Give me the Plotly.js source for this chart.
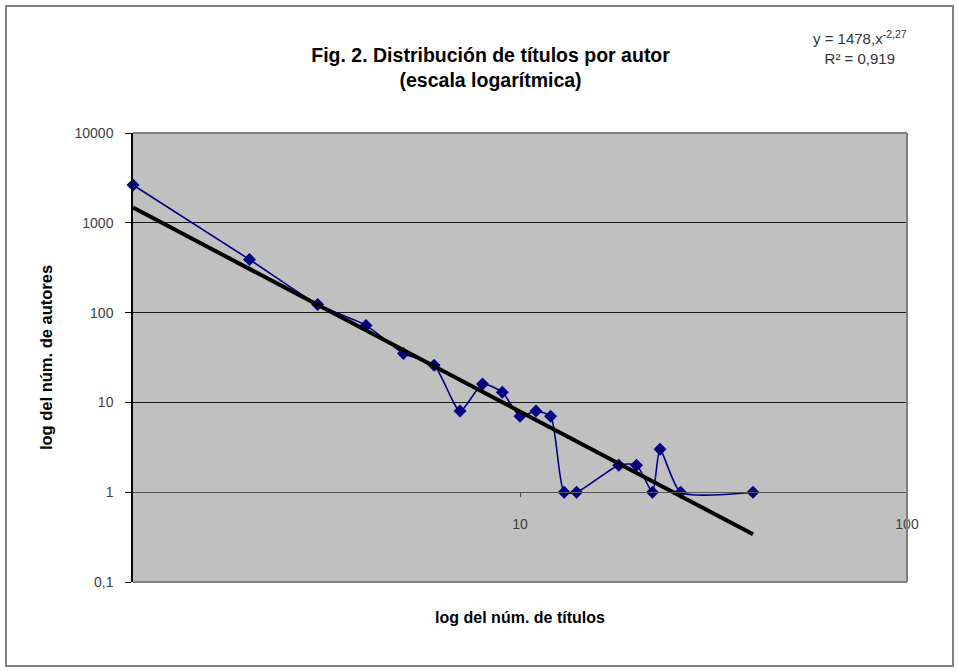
<!DOCTYPE html>
<html>
<head>
<meta charset="utf-8">
<script src="https://cdn.plot.ly/plotly-3.0.1.min.js"></script>
<style>
  html, body { margin: 0; padding: 0; background: #fff; }
  #chart { width: 958px; height: 671px; }
</style>
</head>
<body>
<div id="chart"></div>
<script>
// Data
const titulos = [1, 2, 3, 4, 5, 6, 7, 8, 9, 10, 11, 12, 13, 14, 18, 20, 22, 23, 26, 40];
const autores = [2640, 390, 123, 72, 35, 26, 8, 16, 13, 7, 8, 7, 1, 1, 2, 2, 1, 3, 1, 1];

// Power trend line endpoints (y = 1478·x^-2,27), read at x = 1 and x = 40
const trendX = [1, 40];
const trendY = [1478, 0.34];

const yTickVals = [0.1, 1, 10, 100, 1000, 10000];
const yTickText = ['0,1', '1', '10', '100', '1000', '10000'];
const xTickVals = [10, 100];
const xTickText = ['10', '100'];

const font = '"Liberation Sans", Arial, sans-serif';

const traces = [
  {
    x: titulos, y: autores,
    type: 'scatter', mode: 'lines+markers',
    line: { color: '#000080', width: 1.6, shape: 'spline', smoothing: 0.6 },
    marker: { symbol: 'diamond', size: 10, color: '#000080' },
    cliponaxis: false,
    hoverinfo: 'x+y',
    name: 'autores'
  },
  {
    x: trendX, y: trendY,
    type: 'scatter', mode: 'lines',
    line: { color: '#000000', width: 4 },
    name: 'Potencial'
  }
];

const layout = {
  width: 958, height: 671,
  margin: { l: 133, r: 51, t: 133, b: 89 },
  paper_bgcolor: '#ffffff',
  plot_bgcolor: '#c0c0c0',
  showlegend: false,
  title: {
    text: '<b>Fig. 2. Distribución de títulos por autor<br>(escala logarítmica)</b>',
    font: { family: font, size: 19.5, color: '#000000' },
    x: 0.462, xref: 'paper', xanchor: 'center',
    y: 0.908, yref: 'container', yanchor: 'middle'
  },
  xaxis: {
    type: 'log',
    range: [0, 2],
    anchor: 'free',
    position: 0.2,
    tickvals: xTickVals, ticktext: xTickText,
    ticks: 'outside', ticklen: 4, tickcolor: '#555555', tickwidth: 1,
    ticklabelstandoff: 15,
    showline: true, linecolor: '#555555', linewidth: 1,
    showgrid: false, zeroline: false,
    tickfont: { family: font, size: 14, color: '#404040' },
    title: {
      text: '<b>log del núm. de títulos</b>',
      font: { family: font, size: 16, color: '#000000' },
      standoff: 80
    },
    automargin: false
  },
  yaxis: {
    type: 'log',
    range: [-1, 4],
    tickvals: yTickVals, ticktext: yTickText,
    ticks: 'outside', ticklen: 6, tickcolor: '#000000', tickwidth: 1,
    ticklabelstandoff: 9,
    showline: true, linecolor: '#000000', linewidth: 1.5,
    showgrid: true, gridcolor: '#1a1a1a', gridwidth: 1,
    zeroline: false,
    tickfont: { family: font, size: 14, color: '#404040' },
    title: {
      text: '<b>log del núm. de autores</b>',
      font: { family: font, size: 16.5, color: '#000000' },
      standoff: 18
    },
    automargin: false
  },
  shapes: [
    // plot-area border (top, right, bottom)
    { type: 'line', xref: 'paper', yref: 'paper', x0: 0, x1: 1, y0: 1, y1: 1,
      line: { color: '#808080', width: 2 }, layer: 'above' },
    { type: 'line', xref: 'paper', yref: 'paper', x0: 1, x1: 1, y0: 0, y1: 1,
      line: { color: '#808080', width: 2 }, layer: 'above' },
    { type: 'line', xref: 'paper', yref: 'paper', x0: 0, x1: 1, y0: 0, y1: 0,
      line: { color: '#808080', width: 2 }, layer: 'above' },
    // outer chart frame
    { type: 'rect', xref: 'paper', yref: 'paper',
      x0: (6 - 133) / 774, x1: (953 - 133) / 774,
      y0: (582 - 666) / 449, y1: (582 - 6) / 449,
      line: { color: '#808080', width: 2 }, fillcolor: 'rgba(0,0,0,0)', layer: 'above' }
  ],
  annotations: [
    {
      text: 'y = 1478,x<sup>-2,27</sup><br>R² = 0,919',
      xref: 'paper', yref: 'paper',
      x: (860 - 133) / 774, y: (582 - 47) / 449,
      xanchor: 'center', yanchor: 'middle',
      showarrow: false,
      font: { family: font, size: 15, color: '#333333' }
    }
  ]
};

Plotly.newPlot('chart', traces, layout, { displayModeBar: false });
</script>
</body>
</html>
